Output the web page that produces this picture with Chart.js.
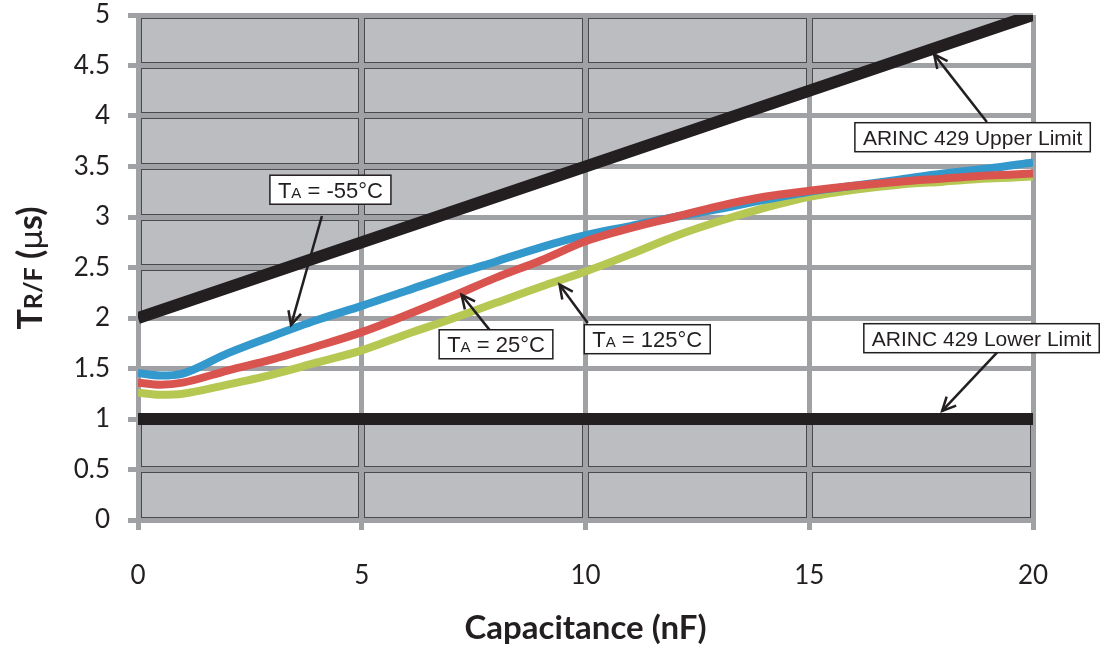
<!DOCTYPE html>
<html>
<head>
<meta charset="utf-8">
<script src="https://cdn.jsdelivr.net/npm/chart.js@4.4.1/dist/chart.umd.min.js"></script>
<style>
html, body { margin: 0; padding: 0; background: #fff; }
</style>
</head>
<body>
<canvas id="chart" width="1104" height="648"></canvas>
<script>
// capacitance sample points (nF)
var capX = [0, 0.5, 1, 2, 3, 4, 5, 6, 7, 8, 9, 10, 11, 12, 13, 14, 15, 16, 17, 18, 19, 20];
// rise/fall time (us) per ambient temperature
var tMinus55 = [1.455, 1.43, 1.45, 1.65, 1.82, 1.98, 2.12, 2.27, 2.42, 2.56, 2.70, 2.82, 2.91, 3.00, 3.08, 3.17, 3.25, 3.31, 3.37, 3.43, 3.48, 3.54];
var t25 = [1.36, 1.34, 1.36, 1.48, 1.59, 1.72, 1.86, 2.03, 2.21, 2.40, 2.57, 2.76, 2.89, 3.00, 3.11, 3.20, 3.26, 3.31, 3.35, 3.38, 3.41, 3.43];
var t125 = [1.26, 1.24, 1.25, 1.34, 1.44, 1.56, 1.68, 1.84, 1.99, 2.15, 2.31, 2.46, 2.63, 2.81, 2.96, 3.09, 3.20, 3.27, 3.32, 3.35, 3.38, 3.40];
// ARINC 429 limits
var limitX = [0, 20];
var upperLimit = [2, 5];
var lowerLimit = [1, 1];
// axis ticks
var xTicks = [0, 5, 10, 15, 20];
var yTicks = [0, 0.5, 1, 1.5, 2, 2.5, 3, 3.5, 4, 4.5, 5];

// callouts: label parts, box centre, arrow tail -> head (data units)
var callouts = [
  { parts: [['T', 22], ['A', 15], [' = -55°C', 22]], box: [4.30, 3.27], from: [4.11, 3.01], to: [3.42, 1.93] },
  { parts: [['T', 22], ['A', 15], [' = 25°C', 22]], box: [8.00, 1.74], from: [7.86, 1.88], to: [7.23, 2.23] },
  { parts: [['T', 22], ['A', 15], [' = 125°C', 22]], box: [11.38, 1.79], from: [10.05, 1.95], to: [9.42, 2.33] },
  { parts: [['ARINC 429 Upper Limit', 21]], box: [18.65, 3.79], from: [18.97, 3.94], to: [17.79, 4.61] },
  { parts: [['ARINC 429 Lower Limit', 21]], box: [18.85, 1.80], from: [19.20, 1.66], to: [17.97, 1.08] }
];

var toPoints = function(xs, ys) {
  return xs.map(function(x, i) { return { x: x, y: ys[i] }; });
};

var gridColor = '#a0a1a5';
var gridWidth = 5;

var align = function(p) { return Math.round(p - gridWidth / 2) + gridWidth / 2; };

// grey shading of the out-of-spec zones, drawn under the grid
var shadePlugin = {
  id: 'shade',
  beforeDraw: function(chart) {
    var ctx = chart.ctx, xs = chart.scales.x, ys = chart.scales.y, a = chart.chartArea;
    ctx.save();
    ctx.beginPath();
    limitX.forEach(function(x, i) {
      var px = xs.getPixelForValue(x), py = ys.getPixelForValue(upperLimit[i]);
      if (i === 0) ctx.moveTo(px, py); else ctx.lineTo(px, py);
    });
    ctx.lineTo(xs.getPixelForValue(xs.max), ys.getPixelForValue(ys.max));
    ctx.lineTo(xs.getPixelForValue(xs.min), ys.getPixelForValue(ys.max));
    ctx.closePath();
    limitX.forEach(function(x, i) {
      var px = xs.getPixelForValue(x), py = ys.getPixelForValue(lowerLimit[i]);
      if (i === 0) ctx.moveTo(px, py); else ctx.lineTo(px, py);
    });
    ctx.lineTo(xs.getPixelForValue(xs.max), ys.getPixelForValue(ys.min));
    ctx.lineTo(xs.getPixelForValue(xs.min), ys.getPixelForValue(ys.min));
    ctx.closePath();
    ctx.fillStyle = '#bcbdc1';
    ctx.fill();
    ctx.clip();
    // dark edges beside the grid lines inside the shaded zone
    ctx.strokeStyle = '#4a4a4e';
    ctx.lineWidth = gridWidth + 2;
    xTicks.forEach(function(v) {
      var px = align(xs.getPixelForValue(v));
      ctx.beginPath(); ctx.moveTo(px, a.top - 5); ctx.lineTo(px, a.bottom + 5); ctx.stroke();
    });
    yTicks.forEach(function(v) {
      var py = align(ys.getPixelForValue(v));
      ctx.beginPath(); ctx.moveTo(a.left - 5, py); ctx.lineTo(a.right + 5, py); ctx.stroke();
    });
    ctx.restore();
  },
  afterDraw: function(chart) {
    var ctx = chart.ctx, xs = chart.scales.x, ys = chart.scales.y;
    ctx.save();
    // y axis title with small-caps R/F
    var titleParts = [['T', 'bold 34px Lato'], ['R/F', 'bold 25px Lato'], [' (', 'bold 34px Lato'], ['\u00b5', '31px "DejaVu Sans"'], ['s)', 'bold 34px Lato']];
    var total = 0;
    titleParts.forEach(function(p) { ctx.font = p[1]; total += ctx.measureText(p[0]).width; });
    ctx.translate(30, 268);
    ctx.rotate(-Math.PI / 2);
    ctx.fillStyle = '#231f20';
    ctx.textBaseline = 'alphabetic';
    var cx = -total / 2;
    titleParts.forEach(function(p) {
      ctx.font = p[1];
      ctx.fillText(p[0], cx, 12);
      cx += ctx.measureText(p[0]).width;
    });
    ctx.restore();

    // callout boxes and arrows
    callouts.forEach(function(c) {
      ctx.save();
      var x1 = xs.getPixelForValue(c.from[0]), y1 = ys.getPixelForValue(c.from[1]);
      var x2 = xs.getPixelForValue(c.to[0]), y2 = ys.getPixelForValue(c.to[1]);
      ctx.strokeStyle = '#231f20';
      ctx.lineWidth = 2.5;
      ctx.beginPath(); ctx.moveTo(x1, y1); ctx.lineTo(x2, y2); ctx.stroke();
      var ang = Math.atan2(y2 - y1, x2 - x1), hl = 15;
      ctx.beginPath();
      ctx.moveTo(x2 - hl * Math.cos(ang - 0.45), y2 - hl * Math.sin(ang - 0.45));
      ctx.lineTo(x2, y2);
      ctx.lineTo(x2 - hl * Math.cos(ang + 0.45), y2 - hl * Math.sin(ang + 0.45));
      ctx.stroke();

      var w = 0;
      c.parts.forEach(function(p) { ctx.font = p[1] + 'px "Liberation Sans"'; w += ctx.measureText(p[0]).width; });
      var bx = xs.getPixelForValue(c.box[0]), by = ys.getPixelForValue(c.box[1]);
      var bw = w + 16, bh = 29;
      ctx.fillStyle = '#fff';
      ctx.fillRect(bx - bw / 2, by - bh / 2, bw, bh);
      ctx.lineWidth = 1.5;
      ctx.strokeRect(bx - bw / 2, by - bh / 2, bw, bh);
      ctx.fillStyle = '#231f20';
      ctx.textBaseline = 'alphabetic';
      var tx = bx - w / 2;
      c.parts.forEach(function(p) {
        ctx.font = p[1] + 'px "Liberation Sans"';
        ctx.fillText(p[0], tx, by + 8);
        tx += ctx.measureText(p[0]).width;
      });
      ctx.restore();
    });
  }
};

var ctx = document.getElementById('chart').getContext('2d');
var myChart = new Chart(ctx, {
  type: 'line',
  data: {
    datasets: [
      { label: 'TA = 25°C', data: toPoints(capX, t25), borderColor: '#d9534f', borderWidth: 8, cubicInterpolationMode: 'monotone', pointRadius: 0 },
      { label: 'TA = -55°C', data: toPoints(capX, tMinus55), borderColor: '#3398cc', borderWidth: 8, cubicInterpolationMode: 'monotone', pointRadius: 0 },
      { label: 'TA = 125°C', data: toPoints(capX, t125), borderColor: '#b6c752', borderWidth: 8, cubicInterpolationMode: 'monotone', pointRadius: 0 },
      { label: 'ARINC 429 Upper Limit', data: toPoints(limitX, upperLimit), borderColor: '#231f20', borderWidth: 12, pointRadius: 0, borderCapStyle: 'butt' },
      { label: 'ARINC 429 Lower Limit', data: toPoints(limitX, lowerLimit), borderColor: '#231f20', borderWidth: 12, pointRadius: 0, borderCapStyle: 'butt' }
    ]
  },
  options: {
    responsive: false,
    animation: false,
    layout: { padding: { top: 15, right: 71, left: 0, bottom: 0 } },
    plugins: { legend: { display: false }, tooltip: { enabled: false } },
    scales: {
      x: {
        type: 'linear', min: 0, max: 20,
        afterBuildTicks: function(s) { s.ticks = xTicks.map(function(v) { return { value: v }; }); },
        afterFit: function(s) { s.height = 128; s.paddingLeft = 0; s.paddingRight = 0; },
        grid: { color: gridColor, lineWidth: gridWidth, tickLength: 10 },
        border: { color: gridColor, width: gridWidth },
        ticks: { color: '#231f20', font: { family: 'Lato', size: 26 }, padding: 30, maxRotation: 0 },
        title: { display: true, text: 'Capacitance (nF)', color: '#231f20', font: { family: 'Lato', size: 33, weight: 'bold' }, padding: { top: 0, bottom: 0 } }
      },
      y: {
        type: 'linear', min: 0, max: 5,
        afterBuildTicks: function(s) { s.ticks = yTicks.map(function(v) { return { value: v }; }); },
        afterFit: function(s) { s.width = 138; s.paddingTop = 0; s.paddingBottom = 0; },
        grid: { color: gridColor, lineWidth: gridWidth, tickLength: 10 },
        border: { color: gridColor, width: gridWidth },
        ticks: { color: '#231f20', font: { family: 'Lato', size: 26 }, padding: 18, callback: function(v) { return String(v); } }
      }
    }
  },
  plugins: [shadePlugin]
});
</script>
</body>
</html>
